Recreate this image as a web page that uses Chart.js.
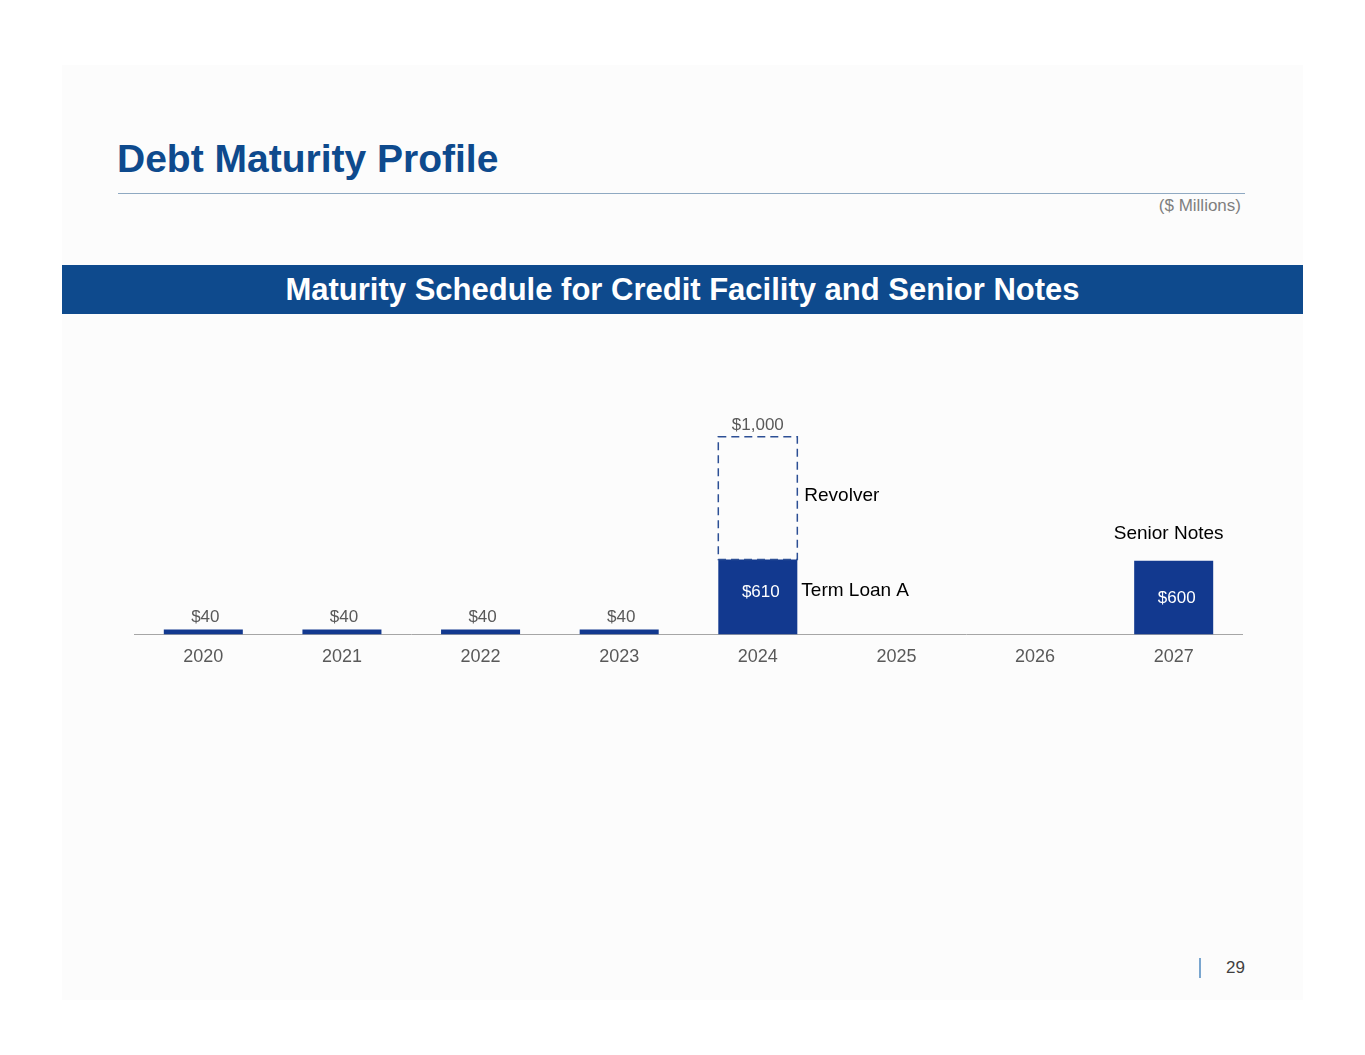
<!DOCTYPE html>
<html>
<head>
<meta charset="utf-8">
<script src="https://cdn.jsdelivr.net/npm/chart.js@4.4.1/dist/chart.umd.min.js"></script>
<style>
  body { margin: 0; background: #ffffff; font-family: "Liberation Sans", Arial, sans-serif; }
  #page { position: relative; width: 1365px; height: 1055px; }
  #panel { position: absolute; left: 62px; top: 65px; width: 1241px; height: 935px; background: #fcfcfc; }
  #title { position: absolute; left: 117px; top: 137px; font-size: 39px; font-weight: bold; color: #0e4a8d; }
  #rule { position: absolute; left: 118px; top: 193px; width: 1127px; height: 1px; background: #8fa9c2; }
  #units { position: absolute; right: 124px; top: 196px; font-size: 17px; color: #7f7f7f; }
  #banner { position: absolute; left: 62px; top: 265px; width: 1241px; height: 49px; background: #0e4a8d;
            color: #fff; font-weight: bold; font-size: 31px; text-align: center; line-height: 49px; }
  #chartBox { position: absolute; left: 134px; top: 380px; width: 1109px; height: 292px; }
  #pageBar { position: absolute; left: 1199px; top: 958px; width: 2px; height: 20px; background: #7aa6cf; }
  #pageNum { position: absolute; left: 1226px; top: 958px; font-size: 17px; color: #404040; }
</style>
</head>
<body>
<div id="page">
  <div id="panel"></div>
  <div id="title">Debt Maturity Profile</div>
  <div id="rule"></div>
  <div id="units">($ Millions)</div>
  <div id="banner">Maturity Schedule for Credit Facility and Senior Notes</div>
  <div id="chartBox"><canvas id="debtChart"></canvas></div>
  <div id="pageBar"></div>
  <div id="pageNum">29</div>
</div>
<script>
// Data ($ millions)
const years = ['2020', '2021', '2022', '2023', '2024', '2025', '2026', '2027'];
const termLoanA = [40, 40, 40, 40, 610, 0, 0, 0];
const revolver = [0, 0, 0, 0, 1000, 0, 0, 0];
const seniorNotes = [0, 0, 0, 0, 0, 0, 0, 600];

const barBlue = '#12398f';
const labelGray = '#595959';
const valueFont = '17px "Liberation Sans", Arial, sans-serif';
const nameFont = '19px "Liberation Sans", Arial, sans-serif';

// draws the dashed revolver box and all the value / series labels
const labelPlugin = {
  id: 'labels',
  afterDatasetsDraw(chart) {
    const ctx = chart.ctx;
    const tlMeta = chart.getDatasetMeta(0);
    const rvMeta = chart.getDatasetMeta(1);
    const snMeta = chart.getDatasetMeta(2);
    ctx.save();
    ctx.textBaseline = 'middle';

    // term loan amortization + term loan A
    termLoanA.forEach((v, i) => {
      if (!v) return;
      const bar = tlMeta.data[i];
      const mid = (bar.y + bar.base) / 2;
      ctx.font = valueFont;
      ctx.textAlign = 'center';
      if (v < 100) {
        ctx.fillStyle = labelGray;
        ctx.fillText('$' + v, bar.x + 2, bar.y - 12);
      } else {
        ctx.fillStyle = '#ffffff';
        ctx.fillText('$' + v, bar.x + 3, mid - 5);
        ctx.fillStyle = '#000000';
        ctx.font = nameFont;
        ctx.textAlign = 'left';
        ctx.fillText('Term Loan A', bar.x + bar.width / 2 + 4, mid - 6);
      }
    });

    // revolver dashed outline
    revolver.forEach((v, i) => {
      if (!v) return;
      const bar = rvMeta.data[i];
      const left = bar.x - bar.width / 2;
      ctx.strokeStyle = '#2c4f95';
      ctx.lineWidth = 1.5;
      ctx.setLineDash([8, 5]);
      ctx.strokeRect(left, bar.y, bar.width, bar.base - bar.y);
      ctx.setLineDash([]);
      ctx.font = valueFont;
      ctx.textAlign = 'center';
      ctx.fillStyle = labelGray;
      ctx.fillText('$' + v.toLocaleString('en-US'), bar.x, bar.y - 12);
      ctx.fillStyle = '#000000';
      ctx.font = nameFont;
      ctx.textAlign = 'left';
      ctx.fillText('Revolver', bar.x + bar.width / 2 + 7, (bar.y + bar.base) / 2 - 2);
    });

    // senior notes
    seniorNotes.forEach((v, i) => {
      if (!v) return;
      const bar = snMeta.data[i];
      ctx.font = valueFont;
      ctx.textAlign = 'center';
      ctx.fillStyle = '#ffffff';
      ctx.fillText('$' + v, bar.x + 3, (bar.y + bar.base) / 2 + 1);
      ctx.fillStyle = '#000000';
      ctx.font = nameFont;
      ctx.fillText('Senior Notes', bar.x - 5, bar.y - 27);
    });
    ctx.restore();
  }
};

new Chart(document.getElementById('debtChart'), {
  type: 'bar',
  data: {
    labels: years,
    datasets: [
      { label: 'Term Loan A', data: termLoanA, backgroundColor: barBlue, stack: 's' },
      { label: 'Revolver', data: revolver, backgroundColor: 'rgba(0,0,0,0)', stack: 's' },
      { label: 'Senior Notes', data: seniorNotes, backgroundColor: barBlue, stack: 's' }
    ]
  },
  options: {
    responsive: true,
    maintainAspectRatio: false,
    animation: false,
    layout: { padding: { top: 9, bottom: 0 } },
    datasets: { bar: { categoryPercentage: 1, barPercentage: 0.57 } },
    plugins: { legend: { display: false }, tooltip: { enabled: false } },
    scales: {
      x: {
        stacked: true,
        grid: { display: false },
        border: { display: true, color: '#a6a6a6', width: 1 },
        ticks: { color: labelGray, font: { size: 18, family: '"Liberation Sans", Arial, sans-serif' }, padding: 4 }
      },
      y: { stacked: true, display: false, min: 0, max: 2000 }
    }
  },
  plugins: [labelPlugin]
});
</script>
</body>
</html>
